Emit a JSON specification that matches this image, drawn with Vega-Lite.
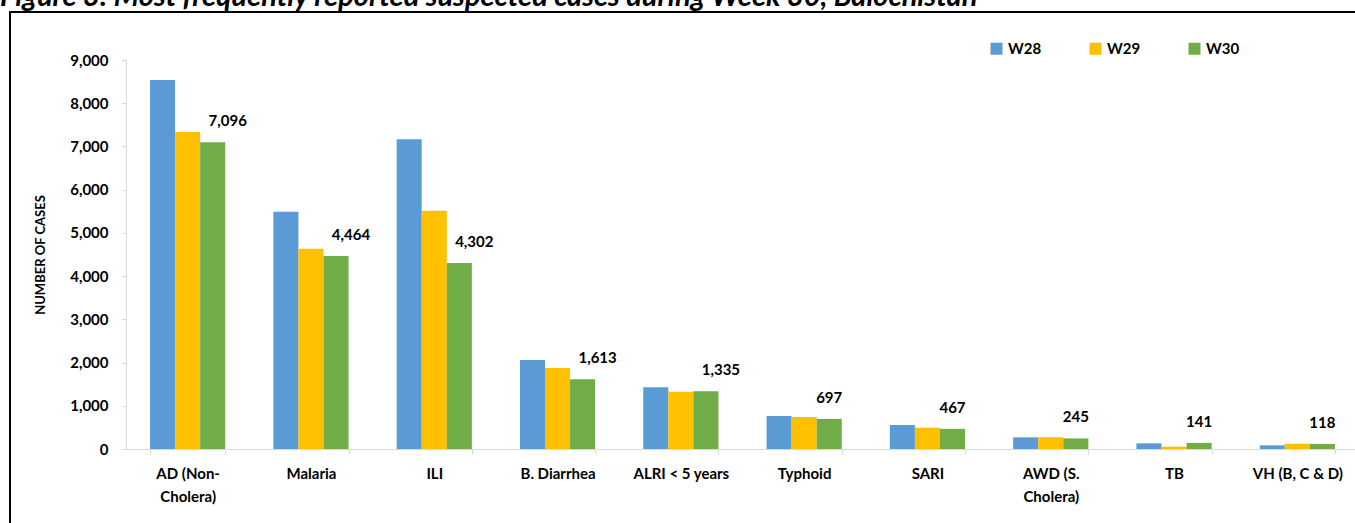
{
  "$schema": "https://vega.github.io/schema/vega-lite/v6.json",
  "autosize": {"type": "none"},
  "padding": {"left": 10, "top": 12, "right": 0, "bottom": 0},
  "width": 1360,
  "height": 530,
  "background": "white",
  "config": {
    "font": "Lato",
    "view": {"stroke": "black", "strokeWidth": 2},
    "axis": {
      "domainColor": "#D9D9D9",
      "tickColor": "#D9D9D9",
      "grid": false,
      "labelColor": "black",
      "labelFontWeight": "bold",
      "labelFontSize": 15,
      "titleColor": "black"
    }
  },
  "title": {
    "text": "Figure 3: Most frequently reported suspected cases during Week 30, Balochistan",
    "anchor": "start",
    "frame": "group",
    "fontSize": 29,
    "fontWeight": "bold",
    "fontStyle": "italic",
    "color": "black",
    "baseline": "alphabetic",
    "offset": -23,
    "dx": -10
  },
  "data": {
    "values": [
      {"disease": "AD (Non-Cholera)", "week": "W28", "cases": 8537},
      {"disease": "AD (Non-Cholera)", "week": "W29", "cases": 7334},
      {"disease": "AD (Non-Cholera)", "week": "W30", "cases": 7096},
      {"disease": "Malaria", "week": "W28", "cases": 5490},
      {"disease": "Malaria", "week": "W29", "cases": 4634},
      {"disease": "Malaria", "week": "W30", "cases": 4464},
      {"disease": "ILI", "week": "W28", "cases": 7165},
      {"disease": "ILI", "week": "W29", "cases": 5513},
      {"disease": "ILI", "week": "W30", "cases": 4302},
      {"disease": "B. Diarrhea", "week": "W28", "cases": 2059},
      {"disease": "B. Diarrhea", "week": "W29", "cases": 1874},
      {"disease": "B. Diarrhea", "week": "W30", "cases": 1613},
      {"disease": "ALRI < 5 years", "week": "W28", "cases": 1427},
      {"disease": "ALRI < 5 years", "week": "W29", "cases": 1326},
      {"disease": "ALRI < 5 years", "week": "W30", "cases": 1335},
      {"disease": "Typhoid", "week": "W28", "cases": 763},
      {"disease": "Typhoid", "week": "W29", "cases": 740},
      {"disease": "Typhoid", "week": "W30", "cases": 697},
      {"disease": "SARI", "week": "W28", "cases": 555},
      {"disease": "SARI", "week": "W29", "cases": 493},
      {"disease": "SARI", "week": "W30", "cases": 467},
      {"disease": "AWD (S. Cholera)", "week": "W28", "cases": 270},
      {"disease": "AWD (S. Cholera)", "week": "W29", "cases": 272},
      {"disease": "AWD (S. Cholera)", "week": "W30", "cases": 245},
      {"disease": "TB", "week": "W28", "cases": 131},
      {"disease": "TB", "week": "W29", "cases": 54},
      {"disease": "TB", "week": "W30", "cases": 141},
      {"disease": "VH (B, C & D)", "week": "W28", "cases": 85},
      {"disease": "VH (B, C & D)", "week": "W29", "cases": 122},
      {"disease": "VH (B, C & D)", "week": "W30", "cases": 118}
    ]
  },
  "encoding": {
    "x": {
      "field": "disease",
      "type": "nominal",
      "sort": null,
      "scale": {"range": [116, 1349], "paddingInner": 0.39, "paddingOuter": 0.195},
      "axis": {
        "title": null,
        "orient": "bottom",
        "offset": -93,
        "labelAngle": 0,
        "tickBand": "extent",
        "tickSize": 5,
        "labelPadding": 12,
        "labelLineHeight": 23,
        "labelExpr": "datum.label == 'AD (Non-Cholera)' ? ['AD (Non-', 'Cholera)'] : datum.label == 'AWD (S. Cholera)' ? ['AWD (S.', 'Cholera)'] : datum.label"
      }
    },
    "xOffset": {
      "field": "week",
      "type": "nominal",
      "scale": {"domain": ["W28", "W29", "W30"], "paddingInner": 0, "paddingOuter": 0}
    },
    "y": {
      "field": "cases",
      "type": "quantitative",
      "scale": {"domain": [0, 9000], "range": [437, 48], "nice": false},
      "axis": {
        "orient": "left",
        "offset": -116,
        "values": [0, 1000, 2000, 3000, 4000, 5000, 6000, 7000, 8000, 9000],
        "format": ",.0f",
        "tickSize": 5,
        "labelPadding": 13,
        "title": "NUMBER OF CASES",
        "titleFontSize": 13,
        "titleFontWeight": "bold",
        "titlePadding": 22
      }
    }
  },
  "layer": [
    {
      "mark": {"type": "bar"},
      "encoding": {
        "color": {
          "field": "week",
          "type": "nominal",
          "scale": {"domain": ["W28", "W29", "W30"], "range": ["#5B9BD5", "#FFC000", "#70AD47"]},
          "legend": {
            "title": null,
            "orient": "none",
            "direction": "horizontal",
            "legendX": 979,
            "legendY": 29,
            "padding": 0,
            "symbolType": "square",
            "symbolSize": 144,
            "symbolStrokeWidth": 0,
            "labelFontSize": 15,
            "labelFontWeight": "bold",
            "labelColor": "black",
            "labelOffset": 4,
            "columnPadding": 46
          }
        }
      }
    },
    {
      "transform": [{"filter": "datum.week == 'W30'"}],
      "mark": {
        "type": "text",
        "fontSize": 15,
        "fontWeight": "bold",
        "color": "black",
        "baseline": "middle",
        "dy": -21,
        "dx": {"expr": "datum.cases > 1000 ? 15 : 0"}
      },
      "encoding": {
        "text": {"field": "cases", "type": "quantitative", "format": ","}
      }
    }
  ]
}
